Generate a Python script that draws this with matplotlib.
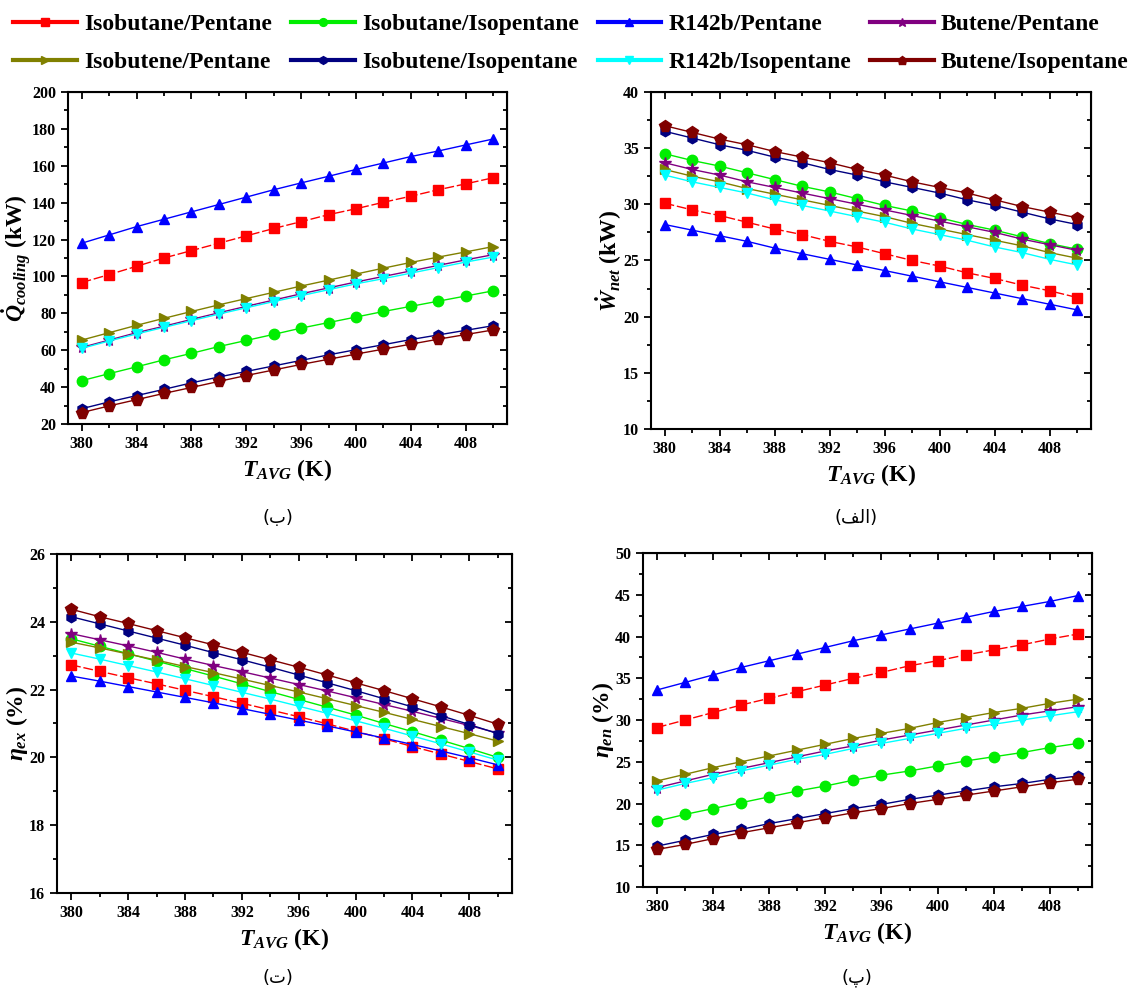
import numpy as np
import matplotlib
matplotlib.use("Agg")
import matplotlib.pyplot as plt
from matplotlib.ticker import MultipleLocator

plt.rcParams["font.family"] = "Liberation Serif"
plt.rcParams["font.weight"] = "bold"
plt.rcParams["mathtext.fontset"] = "custom"
plt.rcParams["mathtext.it"] = "Liberation Serif:italic:bold"
plt.rcParams["mathtext.rm"] = "Liberation Serif:bold"
plt.rcParams["mathtext.bf"] = "Liberation Serif:bold"

t_avg = np.arange(380, 411, 2)

names = ["Isobutane/Pentane", "Isobutane/Isopentane", "R142b/Pentane", "Butene/Pentane",
         "Isobutene/Pentane", "Isobutene/Isopentane", "R142b/Isopentane", "Butene/Isopentane"]
colors = ["#ff0000", "#00ee00", "#0000ff", "#800080",
          "#808000", "#000080", "#00ffff", "#800000"]
markers = ["s", "o", "^", "*", ">", "h", "v", "p"]

# cooling load (kW)
q_cooling = [
    [96.7, 101, 105.5, 110, 114, 118, 122, 126, 129.7, 133.5, 136.7, 140.2, 143.5, 147, 150.2, 153.5],
    [43.5, 47.3, 51, 54.8, 58.3, 62, 65.3, 68.6, 72, 75, 78, 81, 83.8, 86.6, 89.4, 92.2],
    [118, 122.5, 127, 131, 135, 139, 143, 147, 150.7, 154.3, 158, 161.5, 165, 168, 171.3, 174.5],
    [61.5, 65.5, 69.5, 73, 76.7, 80.3, 83.8, 87.2, 90.6, 93.8, 97, 100, 103, 106, 109, 111.8],
    [65.5, 69.5, 73.5, 77.3, 81, 84.6, 88, 91.4, 94.8, 98, 101.3, 104.5, 107.6, 110.5, 113.3, 116.2],
    [28.3, 32, 35.4, 38.8, 42.3, 45.5, 48.5, 51.5, 54.5, 57.5, 60.3, 63, 65.8, 68.3, 70.8, 73.3],
    [61, 65, 68.8, 72.4, 76, 79.6, 83, 86.4, 89.6, 92.8, 96, 98.8, 101.8, 104.8, 107.8, 110.5],
    [26.2, 29.8, 33.2, 36.6, 39.8, 43.1, 46.3, 49.3, 52.3, 55.1, 57.9, 60.6, 63.3, 66, 68.5, 71],
]

# net power (kW)
w_net = [
    [30.1, 29.5, 29.0, 28.4, 27.8, 27.3, 26.7, 26.2, 25.6, 25.0, 24.5, 23.9, 23.4, 22.8, 22.3, 21.7],
    [34.5, 33.9, 33.4, 32.8, 32.2, 31.6, 31.1, 30.5, 29.9, 29.4, 28.8, 28.2, 27.7, 27.1, 26.5, 26.0],
    [28.2, 27.7, 27.2, 26.7, 26.1, 25.6, 25.1, 24.6, 24.1, 23.6, 23.1, 22.6, 22.1, 21.6, 21.1, 20.6],
    [33.7, 33.1, 32.6, 32.0, 31.5, 31.0, 30.5, 30.0, 29.5, 29.0, 28.5, 28.0, 27.5, 26.9, 26.4, 25.9],
    [33.1, 32.5, 32.0, 31.4, 30.9, 30.4, 29.9, 29.4, 28.9, 28.3, 27.8, 27.3, 26.8, 26.3, 25.7, 25.2],
    [36.5, 35.9, 35.3, 34.8, 34.2, 33.7, 33.1, 32.6, 32.0, 31.5, 31.0, 30.4, 29.9, 29.3, 28.7, 28.2],
    [32.6, 32.0, 31.5, 31.0, 30.4, 29.9, 29.4, 28.9, 28.4, 27.8, 27.3, 26.8, 26.2, 25.7, 25.1, 24.6],
    [37.0, 36.4, 35.8, 35.3, 34.7, 34.2, 33.7, 33.1, 32.6, 32.0, 31.5, 31.0, 30.4, 29.8, 29.3, 28.8],
]

# exergy efficiency (%)
eta_ex = [
    [22.73, 22.54, 22.35, 22.17, 21.98, 21.79, 21.6, 21.4, 21.2, 20.99, 20.77, 20.55, 20.32, 20.1, 19.88, 19.66],
    [23.5, 23.28, 23.06, 22.84, 22.62, 22.4, 22.17, 21.94, 21.71, 21.48, 21.25, 21.0, 20.76, 20.51, 20.26, 20.0],
    [22.4, 22.25, 22.09, 21.93, 21.77, 21.61, 21.44, 21.27, 21.1, 20.93, 20.75, 20.57, 20.38, 20.19, 19.99, 19.78],
    [23.65, 23.47, 23.29, 23.1, 22.9, 22.71, 22.53, 22.34, 22.15, 21.96, 21.76, 21.56, 21.36, 21.15, 20.94, 20.72],
    [23.4, 23.23, 23.05, 22.87, 22.68, 22.5, 22.31, 22.12, 21.93, 21.73, 21.53, 21.33, 21.12, 20.91, 20.7, 20.48],
    [24.15, 23.94, 23.73, 23.52, 23.31, 23.09, 22.88, 22.66, 22.43, 22.2, 21.97, 21.73, 21.49, 21.23, 20.97, 20.7],
    [23.08, 22.9, 22.71, 22.52, 22.32, 22.12, 21.92, 21.72, 21.51, 21.3, 21.08, 20.86, 20.63, 20.4, 20.16, 19.92],
    [24.37, 24.15, 23.95, 23.74, 23.53, 23.32, 23.1, 22.88, 22.66, 22.43, 22.2, 21.97, 21.73, 21.49, 21.24, 20.98],
]

# energy efficiency (%)
eta_en = [
    [29.1, 30.0, 30.9, 31.8, 32.6, 33.4, 34.2, 35.0, 35.7, 36.5, 37.1, 37.8, 38.4, 39.0, 39.7, 40.3],
    [17.9, 18.7, 19.4, 20.1, 20.8, 21.5, 22.1, 22.8, 23.4, 23.9, 24.5, 25.1, 25.6, 26.1, 26.7, 27.2],
    [33.6, 34.5, 35.4, 36.3, 37.1, 37.9, 38.7, 39.5, 40.2, 40.9, 41.6, 42.3, 43.0, 43.6, 44.2, 44.9],
    [21.9, 22.7, 23.5, 24.2, 24.9, 25.6, 26.3, 26.9, 27.6, 28.2, 28.8, 29.4, 30.0, 30.6, 31.1, 31.6],
    [22.7, 23.5, 24.3, 25.0, 25.7, 26.4, 27.1, 27.8, 28.4, 29.0, 29.7, 30.3, 30.9, 31.4, 32.0, 32.5],
    [14.9, 15.6, 16.3, 16.9, 17.6, 18.2, 18.8, 19.4, 19.9, 20.5, 21.0, 21.5, 22.0, 22.4, 22.9, 23.3],
    [21.6, 22.4, 23.1, 23.9, 24.6, 25.3, 25.9, 26.6, 27.2, 27.8, 28.4, 29.0, 29.5, 30.0, 30.5, 31.0],
    [14.5, 15.1, 15.8, 16.5, 17.1, 17.7, 18.3, 18.9, 19.4, 20.0, 20.5, 21.0, 21.5, 22.0, 22.5, 22.9],
]

fig = plt.figure(figsize=(11.42, 9.9), dpi=100)

panels = [
    # data, ylabel, ylim, major step, axes rect, caption, caption position
    (q_cooling, r"$\dot{Q}_{cooling}$ (kW)", (20, 200), 20,
     [0.0595, 0.5717, 0.3844, 0.3354], "(\u0628)", (0.243, 0.468)),
    (w_net, r"$\dot{W}_{net}$ (kW)", (10, 40), 5,
     [0.570, 0.5667, 0.3853, 0.3404], "(\ufed2\ufedf\ufe8d)", (0.750, 0.468)),
    (eta_ex, r"$\eta_{ex}$ (%)", (16, 26), 2,
     [0.0499, 0.0980, 0.3984, 0.3424], "(\u062a)", (0.243, 0.003)),
    (eta_en, r"$\eta_{en}$ (%)", (10, 50), 5,
     [0.563, 0.1040, 0.3932, 0.3374], "(\u067e)", (0.750, 0.003)),
]

for data, ylabel, ylim, step, rect, caption, cpos in panels:
    ax = fig.add_axes(rect)
    for i, name in enumerate(names):
        ls = (0, (7, 2)) if i == 0 else "-"
        ax.plot(t_avg, data[i], color=colors[i], marker=markers[i], linestyle=ls,
                linewidth=1.0, markersize=8.5 if markers[i] in "*p" else 7.5, label=name)
    ax.set_xlim(379, 411)
    ax.set_ylim(*ylim)
    ax.xaxis.set_major_locator(MultipleLocator(4))
    ax.xaxis.set_minor_locator(MultipleLocator(2))
    ax.yaxis.set_major_locator(MultipleLocator(step))
    ax.yaxis.set_minor_locator(MultipleLocator(step / 2))
    ax.tick_params(which="both", direction="out", width=1.3, labelsize=11.5)
    ax.tick_params(which="major", length=5)
    ax.tick_params(which="minor", length=3)
    for side in ["top", "right", "bottom", "left"]:
        ax.spines[side].set_linewidth(1.5)
    # mirrored inner ticks on the top and right edges
    sec_x = ax.secondary_xaxis("top")
    sec_x.xaxis.set_major_locator(MultipleLocator(4))
    sec_x.xaxis.set_minor_locator(MultipleLocator(2))
    sec_x.tick_params(which="both", direction="in", width=1.3, labeltop=False)
    sec_x.tick_params(which="major", length=5)
    sec_x.tick_params(which="minor", length=3)
    sec_y = ax.secondary_yaxis("right")
    sec_y.yaxis.set_major_locator(MultipleLocator(step))
    sec_y.yaxis.set_minor_locator(MultipleLocator(step / 2))
    sec_y.tick_params(which="both", direction="in", width=1.3, labelright=False)
    sec_y.tick_params(which="major", length=5)
    sec_y.tick_params(which="minor", length=3)
    ax.set_xlabel(r"$T_{AVG}$ (K)", fontsize=17, fontweight="bold", labelpad=4)
    ax.set_ylabel(ylabel, fontsize=17, fontweight="bold", labelpad=-1)
    fig.text(cpos[0], cpos[1], caption, family="DejaVu Sans", fontsize=13,
             fontweight="normal", ha="center", va="bottom")

# legend filled row by row: 4 columns, 2 rows
handles, labels = fig.axes[0].get_legend_handles_labels()
order = [0, 4, 1, 5, 2, 6, 3, 7]
leg = fig.legend([handles[k] for k in order], [labels[k] for k in order], ncol=4,
                 loc="upper center", bbox_to_anchor=(0.5, 1.008),
                 frameon=False, fontsize=17, handlelength=2.7, handletextpad=0.3,
                 columnspacing=0.8, labelspacing=0.7, markerscale=0.75)
for line in leg.get_lines():
    line.set_linewidth(3)
    line.set_linestyle("-")

fig.savefig("out.png", dpi=100)
